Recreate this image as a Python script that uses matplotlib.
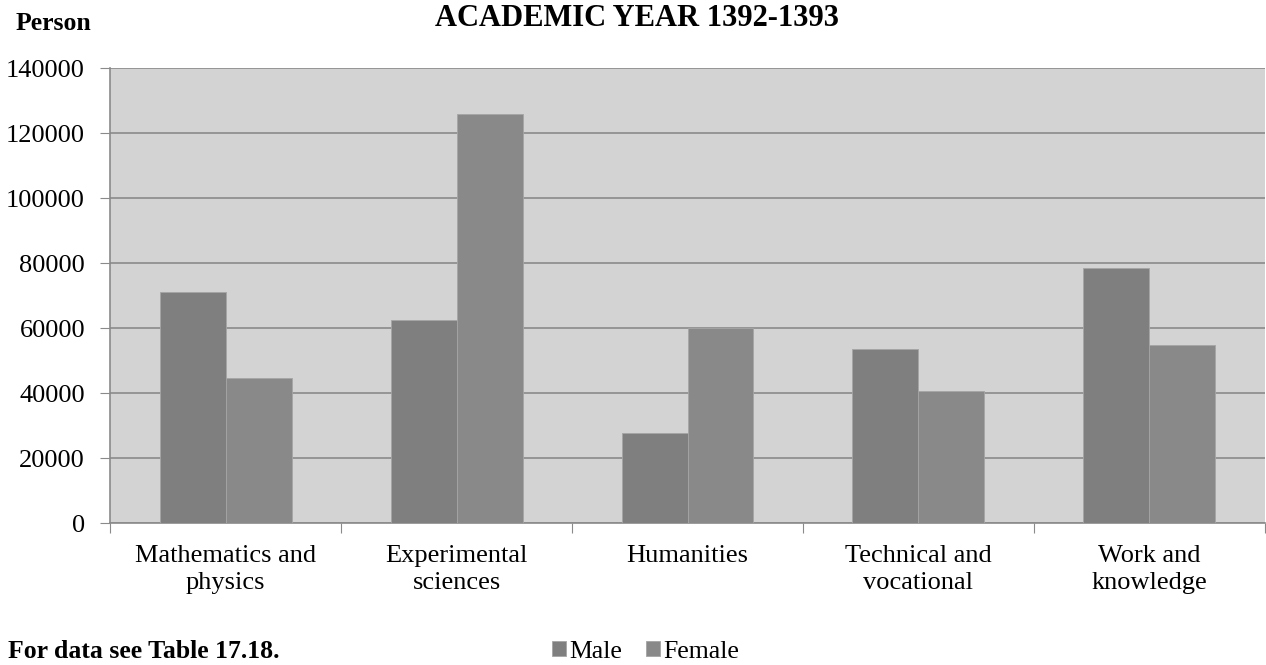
import matplotlib.pyplot as plt
import numpy as np

plt.rcParams["font.family"] = ["Liberation Serif", "DejaVu Serif"]

CATEGORIES = ["Mathematics and\nphysics", "Experimental\nsciences", "Humanities",
              "Technical and\nvocational", "Work and\nknowledge"]
MALE = [71000, 62500, 27800, 53600, 78400]
FEMALE = [44500, 126000, 60000, 40500, 54900]
Y_TICKS = [0, 20000, 40000, 60000, 80000, 100000, 120000, 140000]

BG = "#d3d3d3"
MALE_COLOR = "#7f7f7f"
FEMALE_COLOR = "#898989"
GRID = "#8a8a8a"


def main() -> None:
    fig = plt.figure(figsize=(12.66, 6.65), dpi=100)
    ax = fig.add_axes([0.0869, 0.2135, 0.9123, 0.6842])
    ax.set_facecolor(BG)

    x = np.arange(len(CATEGORIES))
    width = 1 / 3.5
    ax.bar(x - width / 2, MALE, width, color=MALE_COLOR, edgecolor="#a5a5a5",
           linewidth=0.6, label="Male", zorder=3)
    ax.bar(x + width / 2, FEMALE, width, color=FEMALE_COLOR, edgecolor="#a5a5a5",
           linewidth=0.6, label="Female", zorder=3)

    ax.set_xlim(-0.5, len(CATEGORIES) - 0.5)
    ax.set_ylim(0, 140000)
    ax.set_yticks(Y_TICKS)
    ax.set_yticklabels([str(v) for v in Y_TICKS], fontsize=19)
    ax.yaxis.grid(True, color=GRID, linewidth=1.2, zorder=1)
    ax.set_axisbelow(True)

    # category boundaries as ticks, names in the middle
    ax.set_xticks(np.arange(len(CATEGORIES) + 1) - 0.5)
    ax.set_xticklabels([])
    ax.set_xticks(x, minor=True)
    ax.set_xticklabels(CATEGORIES, minor=True, fontsize=19, linespacing=1.3)
    ax.tick_params(axis="x", which="minor", length=0, pad=16)
    ax.tick_params(axis="x", which="major", length=7, color=GRID)
    ax.tick_params(axis="y", length=7, color=GRID, pad=11)

    for side in ["left", "bottom"]:
        ax.spines[side].set_color(GRID)
        ax.spines[side].set_linewidth(1.2)
    for side in ["top", "right"]:
        ax.spines[side].set_visible(False)

    fig.text(0.012, 0.964, "Person", fontsize=18.5, fontweight="bold", va="center")
    fig.text(0.5035, 0.972, "ACADEMIC YEAR 1392-1393", fontsize=22,
             fontweight="bold", ha="center", va="center")
    fig.text(0.006, 0.0105, "For data see Table 17.18.", fontsize=18.5,
             fontweight="bold", va="baseline")

    fig.legend(loc="center", bbox_to_anchor=(0.51, 0.02), ncol=2, frameon=False,
               fontsize=18.5, handlelength=0.55, handleheight=0.55,
               handletextpad=0.15, columnspacing=0.9, borderpad=0)

    fig.savefig("out.png", dpi=100)
    plt.close(fig)


if __name__ == "__main__":
    main()
